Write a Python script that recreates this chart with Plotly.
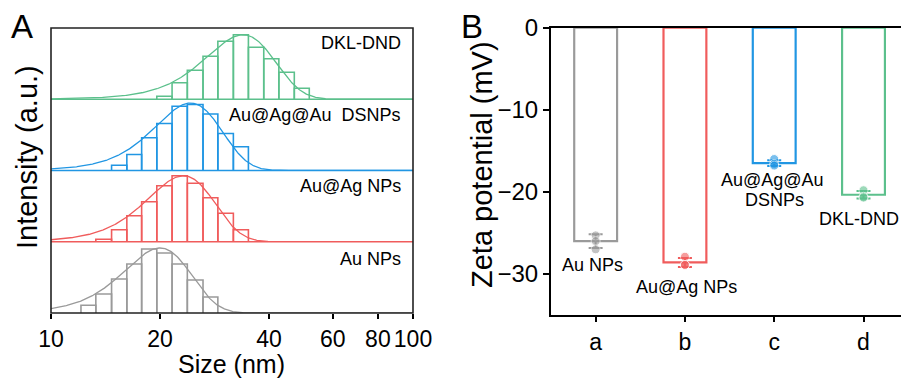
import numpy as np
import plotly.graph_objects as go

# ---------------- data: panel A (DLS size distributions) ----------------
bin_edges_nm = [12.1, 13.3, 14.7, 16.2, 17.8, 19.6, 21.6, 23.8, 26.3, 28.9,
                31.9, 35.1, 38.7, 42.6, 47.0, 51.7]
samples = ["Au NPs", "Au@Ag NPs", "Au@Ag@Au  DSNPs", "DKL-DND"]
hist_start_bin = [0, 1, 2, 5]
hist_au = [7.7, 19, 34, 49, 64, 60, 49, 33, 16]
hist_auag = [2.5, 12, 26, 40, 56, 66, 58.5, 44, 28.5, 12]
hist_auagau = [5.3, 16, 32.7, 47, 64.3, 66, 56.5, 37, 23.7]
hist_dkl = [3.0, 16.5, 29, 43, 58, 64.5, 52, 40.5, 27, 11]
fit_mean_nm = [20.0, 23.2, 24.3, 33.9]
fit_sd_nm = [4.3, 5.0, 5.2, 7.5]
fit_amp = [65, 66, 67.5, 64.5]

# ---------------- data: panel B (zeta potential) ----------------
groups = ["a", "b", "c", "d"]
zeta_mean = [-26.0, -28.6, -16.5, -20.35]
zeta_sd = [0.85, 0.55, 0.35, 0.45]
zeta_points = [[-25.3, -26.0, -27.0],
               [-27.9, -28.9, -28.9],
               [-16.0, -16.6, -16.8],
               [-19.8, -20.6, -20.7]]

colors = ["#9a9a9a", "#f05c5c", "#2196e3", "#5cc08c"]
FONT = "Arial, Liberation Sans, sans-serif"
W, H = 901, 378

def px_x(p):
    return p / W

def px_y(p):
    return 1 - p / H

# panel A geometry
ax_l, ax_r, ax_t, ax_b = 51, 413, 28, 313
sub_h = (ax_b - ax_t) / 4.0
sub_bounds = [ax_b - i * sub_h for i in range(5)]  # bottom of gray ... top of green

fig = go.Figure()
hists = [hist_au, hist_auag, hist_auagau, hist_dkl]
yaxes_names = ["y", "y2", "y3", "y4"]
xcurve = np.logspace(1, 2, 500)
for i in range(4):
    xs, ys = [], []
    s = hist_start_bin[i]
    for j, h in enumerate(hists[i]):
        l, r = bin_edges_nm[s + j], bin_edges_nm[s + j + 1]
        xs += [l, l, r, r, None]
        ys += [0, h, h, 0, None]
    fig.add_trace(go.Scatter(x=xs, y=ys, mode="lines", xaxis="x", yaxis=yaxes_names[i],
                             line=dict(color=colors[i], width=1.6), hoverinfo="skip",
                             showlegend=False))
    yc = fit_amp[i] * np.exp(-(xcurve - fit_mean_nm[i]) ** 2 / (2 * fit_sd_nm[i] ** 2))
    fig.add_trace(go.Scatter(x=xcurve, y=yc, mode="lines", xaxis="x", yaxis=yaxes_names[i],
                             line=dict(color=colors[i], width=1.3), hoverinfo="skip",
                             showlegend=False))

# panel B bars
xnum = list(range(len(groups)))
fig.add_trace(go.Bar(x=xnum, y=zeta_mean, width=0.48, xaxis="x2", yaxis="y5",
                     marker=dict(color="rgba(0,0,0,0)",
                                 line=dict(color=colors, width=2.2)),
                     showlegend=False, hoverinfo="skip"))
for i in range(4):
    fig.add_trace(go.Scatter(x=[xnum[i]], y=[zeta_mean[i]], mode="markers", xaxis="x2", yaxis="y5",
                             marker=dict(size=1, color=colors[i]),
                             error_y=dict(type="data", array=[zeta_sd[i]], color=colors[i],
                                          thickness=2, width=7),
                             showlegend=False, hoverinfo="skip"))
    fig.add_trace(go.Scatter(x=[xnum[i]] * len(zeta_points[i]), y=zeta_points[i], mode="markers",
                             xaxis="x2", yaxis="y5",
                             marker=dict(size=9, color=colors[i], opacity=0.6,
                                         line=dict(color="white", width=1)),
                             showlegend=False, hoverinfo="skip"))

layout = dict(
    width=W, height=H, margin=dict(l=0, r=0, t=0, b=0, pad=0, autoexpand=False),
    paper_bgcolor="white", plot_bgcolor="white",
    font=dict(family=FONT, color="black"),
    showlegend=False,
    xaxis=dict(type="log", domain=[px_x(ax_l), px_x(ax_r)], range=[1, 2], anchor="y",
               tickvals=[10, 20, 40, 60, 80, 100], ticktext=["10", "20", "40", "60", "80", "100"],
               ticks="outside", ticklen=5, tickwidth=1.5, tickcolor="black", tickangle=0,
               showgrid=False, zeroline=False, showline=False, automargin=False,
               tickfont=dict(size=23, family=FONT)),
    xaxis2=dict(domain=[px_x(551), 1.0], range=[-0.5, 3.42], anchor="y5",
                tickvals=xnum, ticktext=groups, ticks="outside", ticklen=5, tickwidth=2,
                tickcolor="black", showline=True, linecolor="black", linewidth=2, mirror=True,
                showgrid=False, zeroline=False, automargin=False, tickangle=0,
                tickfont=dict(size=23, family=FONT)),
    yaxis5=dict(domain=[px_y(315), px_y(27.7)], range=[-35, 0], anchor="x2",
                tickvals=[0, -10, -20, -30], ticktext=["0", "\u221210", "\u221220", "\u221230"],
                ticks="outside", ticklen=6, tickwidth=2, tickcolor="black",
                showline=True, linecolor="black", linewidth=2, showgrid=False, zeroline=False,
                automargin=False, tickfont=dict(size=24, family=FONT)),
)
for i, name in enumerate(["yaxis", "yaxis2", "yaxis3", "yaxis4"]):
    layout[name] = dict(domain=[px_y(sub_bounds[i]), px_y(sub_bounds[i + 1])],
                        range=[0, sub_h], anchor="x", showticklabels=False, ticks="",
                        showgrid=False, zeroline=False, showline=False, automargin=False)
fig.update_layout(**layout)

shapes = []
for i in range(1, 4):
    shapes.append(dict(type="line", xref="paper", yref="paper",
                       x0=px_x(ax_l), x1=px_x(ax_r), y0=px_y(sub_bounds[i]), y1=px_y(sub_bounds[i]),
                       line=dict(color=colors[i], width=1.6)))
shapes.append(dict(type="rect", xref="paper", yref="paper",
                   x0=px_x(ax_l), x1=px_x(ax_r), y0=px_y(ax_b), y1=px_y(ax_t),
                   line=dict(color="#222222", width=1.6)))
fig.update_layout(shapes=shapes)


def note(text, x, y, size=18, xanchor="center", angle=0):
    return dict(text=text, xref="paper", yref="paper", x=px_x(x), y=px_y(y),
                xanchor=xanchor, yanchor="middle", showarrow=False, textangle=angle,
                font=dict(size=size, family=FONT))


ann = []
label_y = [259, 186, 115, 43]
for i in range(4):
    ann.append(note(samples[i], 403, label_y[i], xanchor="right"))
ann += [
    note("A", 22, 26, size=33),
    note("B", 472, 27, size=33),
    note("Intensity (a.u.)", 27, 157, size=29, angle=-90),
    note("Size (nm)", 232, 364, size=25),
    note("Zeta potential (mV)", 482, 164, size=29, angle=-90),
    note("Au NPs", 592, 265),
    note("Au@Ag NPs", 686, 287),
    note("Au@Ag@Au", 772, 180),
    note("DSNPs", 774, 200),
    note("DKL-DND", 859, 219),
]
fig.update_layout(annotations=ann)

fig.write_html("out.html", config={"displayModeBar": False},
               post_script="document.body.style.margin='0';document.body.style.overflow='hidden';")
